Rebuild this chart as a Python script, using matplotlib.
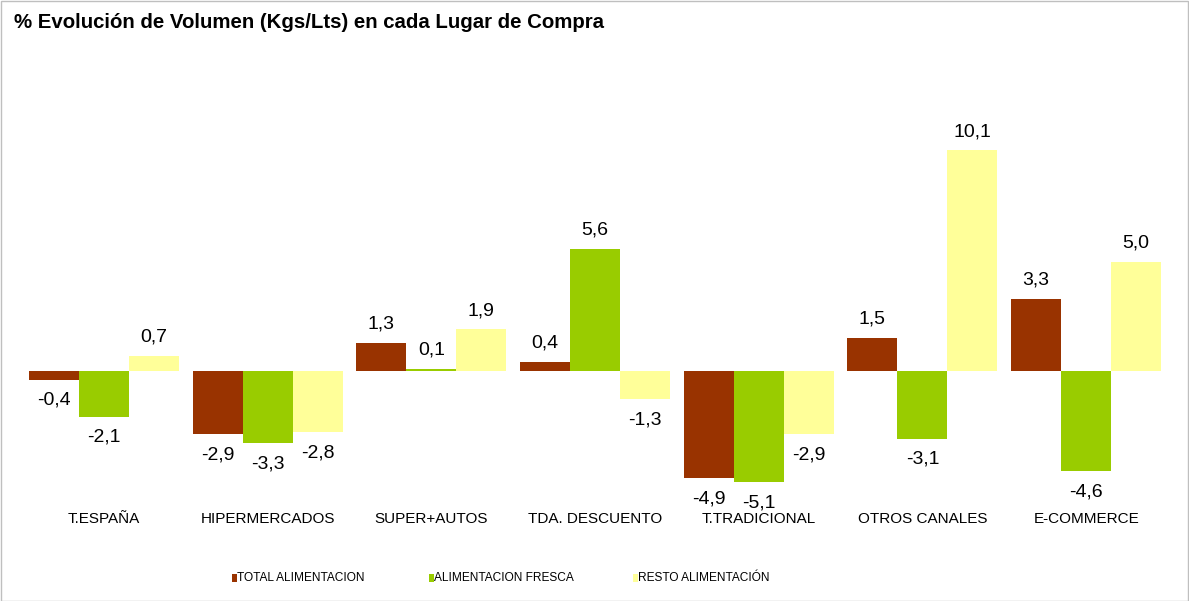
import matplotlib.pyplot as plt
from matplotlib.patches import Rectangle
import numpy as np

# data
categorias = ['T.ESPAÑA', 'HIPERMERCADOS', 'SUPER+AUTOS', 'TDA. DESCUENTO',
              'T.TRADICIONAL', 'OTROS CANALES', 'E-COMMERCE']
series = ['TOTAL ALIMENTACION', 'ALIMENTACION FRESCA', 'RESTO ALIMENTACIÓN']
total_alim = [-0.4, -2.9, 1.3, 0.4, -4.9, 1.5, 3.3]
alim_fresca = [-2.1, -3.3, 0.1, 5.6, -5.1, -3.1, -4.6]
resto_alim = [0.7, -2.8, 1.9, -1.3, -2.9, 10.1, 5.0]
colores = ['#993300', '#99CC00', '#FFFF99']

plt.rcParams['font.family'] = ['Liberation Sans', 'DejaVu Sans']

fig = plt.figure(figsize=(11.89, 6.01), dpi=100)
W, H = 1189, 601

# plot area in pixels: left 22, right 1168, bottom 502, top 98
ax = fig.add_axes([22 / W, 1 - 502 / H, (1168 - 22) / W, (502 - 98) / H])

x = np.arange(len(categorias))
ancho = 50 / 163.7
valores = [total_alim, alim_fresca, resto_alim]

for i, (vals, col) in enumerate(zip(valores, colores)):
    pos = x + (i - 1) * ancho
    ax.bar(pos, vals, width=ancho, color=col, linewidth=0)
    for xp, v in zip(pos, vals):
        off = 13.5 if v >= 0 else -14.8
        ax.annotate(f'{v:.1f}'.replace('.', ','), (xp, v), xytext=(0, off),
                    textcoords='offset points', ha='center', va='center',
                    fontsize=14)

ax.set_xlim(-0.5, len(categorias) - 0.5)
ax.set_ylim(-6.0, 12.5)
ax.set_xticks(x)
ax.set_xticklabels(categorias, fontsize=11)
ax.tick_params(axis='x', length=0, pad=7)
ax.set_yticks([])
for s in ax.spines.values():
    s.set_visible(False)

# title
fig.text(14 / W, 1 - 22 / H, '% Evolución de Volumen (Kgs/Lts) en cada Lugar de Compra',
         fontsize=14.7, fontweight='bold', ha='left', va='center')

# legend, drawn by hand
leg_x = [232, 429, 633]
leg_y = 578
for lx, nombre, col in zip(leg_x, series, colores):
    fig.patches.append(Rectangle((lx / W, 1 - (leg_y + 4) / H), 5 / W, 8 / H,
                                 transform=fig.transFigure, facecolor=col,
                                 edgecolor='none'))
    fig.text((lx + 5) / W, 1 - leg_y / H, nombre, fontsize=8.6, ha='left',
             va='center')

# outer border
fig.patches.append(Rectangle((0.5 / W, 0.5 / H), 1 - 1.5 / W, 1 - 1.5 / H,
                             transform=fig.transFigure, facecolor='none',
                             edgecolor='#BFBFBF', linewidth=1))

fig.savefig('out.png', dpi=100)
